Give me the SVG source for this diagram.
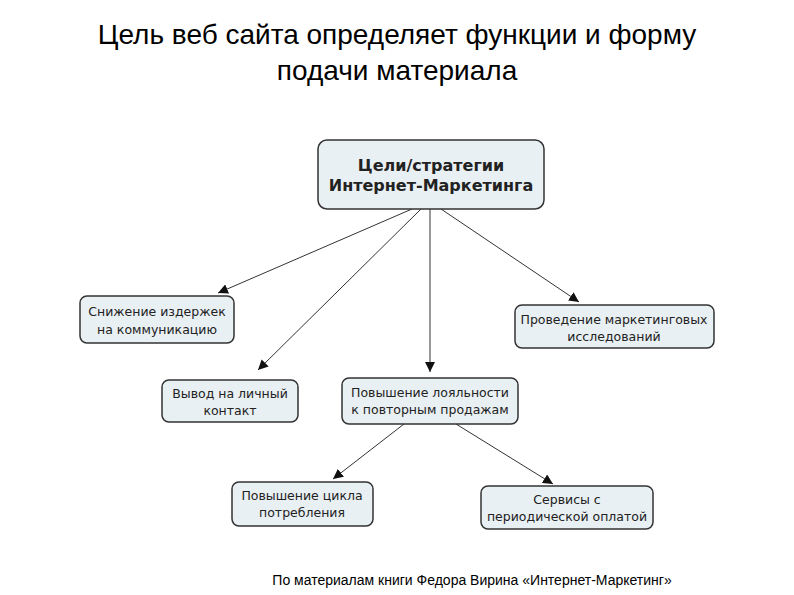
<svg xmlns="http://www.w3.org/2000/svg" width="794" height="595" viewBox="0 0 794 595">
<style>
.b{fill:#e9f0f3;stroke:#333;stroke-width:1.5}
.t{font-family:"DejaVu Sans",sans-serif;font-size:12.5px;fill:#222;text-anchor:middle}
.h{font-size:16px;font-weight:bold}
.c line{stroke:#333;stroke-width:1;marker-end:url(#a)}
</style>
<defs><marker id="a" viewBox="0 0 10 10" refX="10" refY="5" markerWidth="10" markerHeight="10" orient="auto" markerUnits="userSpaceOnUse"><path d="M0,0L10,5L0,10z" fill="#111"/></marker></defs>
<rect width="794" height="595" fill="#fff"/>
<text x="397" y="44" font-family="Liberation Sans,sans-serif" font-size="28" text-anchor="middle">Цель веб сайта определяет функции и форму</text>
<text x="397" y="80" font-family="Liberation Sans,sans-serif" font-size="28" text-anchor="middle">подачи материала</text>
<g class="c">
<line x1="412" y1="209" x2="218" y2="293"/>
<line x1="421" y1="209" x2="258" y2="370"/>
<line x1="430" y1="209" x2="430" y2="372"/>
<line x1="441" y1="209" x2="579" y2="302"/>
<line x1="404" y1="424" x2="333" y2="479"/>
<line x1="456" y1="424" x2="553" y2="484"/>
</g>
<g id="top"><rect class="b" x="318" y="140" width="226" height="69" rx="9"/><text class="t h" x="431" y="171">Цели/стратегии</text><text class="t h" x="431" y="191">Интернет-Маркетинга</text></g>
<g id="n1"><rect class="b" x="80" y="296" width="154" height="47" rx="7"/><text class="t" x="157" y="316">Снижение издержек</text><text class="t" x="157" y="334">на коммуникацию</text></g>
<g id="n2"><rect class="b" x="515" y="305" width="199" height="43" rx="7"/><text class="t" x="614" y="324">Проведение маркетинговых</text><text class="t" x="614" y="341">исследований</text></g>
<g id="n3"><rect class="b" x="162" y="380" width="136" height="42" rx="7"/><text class="t" x="230" y="398">Вывод на личный</text><text class="t" x="230" y="415">контакт</text></g>
<g id="n4"><rect class="b" x="342" y="378" width="176" height="46" rx="7"/><text class="t" x="430" y="397">Повышение лояльности</text><text class="t" x="430" y="414">к повторным продажам</text></g>
<g id="n5"><rect class="b" x="232" y="482" width="141" height="44" rx="7"/><text class="t" x="302" y="500">Повышение цикла</text><text class="t" x="302" y="517">потребления</text></g>
<g id="n6"><rect class="b" x="481" y="486" width="172" height="43" rx="7"/><text class="t" x="567" y="504">Сервисы с</text><text class="t" x="567" y="521">периодической оплатой</text></g>
<text x="472" y="585" font-family="Liberation Sans,sans-serif" font-size="14" text-anchor="middle">По материалам книги Федора Вирина «Интернет-Маркетинг»</text>
</svg>
